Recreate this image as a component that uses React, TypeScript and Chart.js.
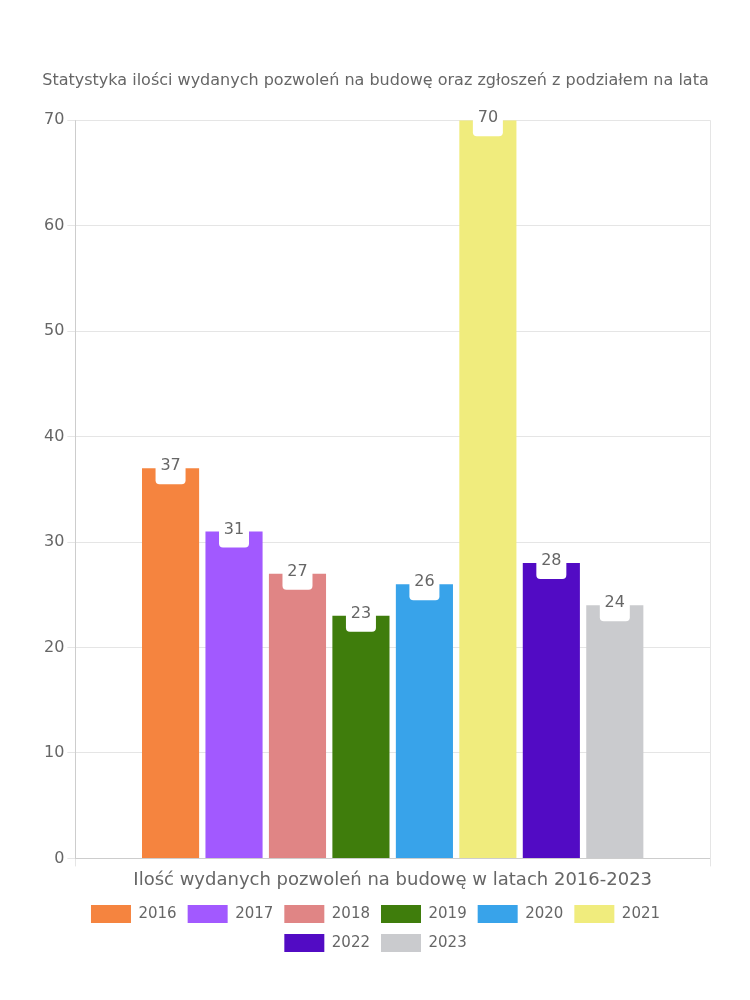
import React, { useEffect, useRef } from "react";
import { Chart, registerables } from "chart.js";

Chart.register(...registerables);

const categories = ["Ilość wydanych pozwoleń na budowę w latach 2016-2023"];
const years = ["2016", "2017", "2018", "2019", "2020", "2021", "2022", "2023"];
const values = [37, 31, 27, 23, 26, 70, 28, 24];
const colors = ["#F5843F", "#A259FF", "#E08585", "#3F7D0C", "#38A3EA", "#F0EC7D", "#520BC4", "#CACBCE"];
const titleText = "Statystyka ilości wydanych pozwoleń na budowę oraz zgłoszeń z podziałem na lata";

const FONT = "'DejaVu Sans', sans-serif";

const labelPlugin = {
  id: "valueLabels",
  afterDatasetsDraw(chart: any) {
    const ctx = chart.ctx;
    ctx.save();
    chart.data.datasets.forEach((ds: any, i: number) => {
      const meta = chart.getDatasetMeta(i);
      if (meta.hidden) return;
      meta.data.forEach((bar: any, j: number) => {
        const v = ds.data[j];
        const x = bar.x;
        const y = bar.y;
        const w = 30;
        const h = 30;
        const top = y - 14;
        const r = 4;
        ctx.fillStyle = "#ffffff";
        ctx.beginPath();
        ctx.moveTo(x - w / 2, top);
        ctx.lineTo(x + w / 2, top);
        ctx.lineTo(x + w / 2, top + h - r);
        ctx.quadraticCurveTo(x + w / 2, top + h, x + w / 2 - r, top + h);
        ctx.lineTo(x - w / 2 + r, top + h);
        ctx.quadraticCurveTo(x - w / 2, top + h, x - w / 2, top + h - r);
        ctx.closePath();
        ctx.fill();
        ctx.fillStyle = "#666666";
        ctx.font = "16px " + FONT;
        ctx.textAlign = "center";
        ctx.textBaseline = "middle";
        ctx.fillText(String(v), x, y - 2);
      });
    });
    ctx.restore();
  },
};

export default function App() {
  const ref = useRef<HTMLCanvasElement | null>(null);
  useEffect(() => {
    if (!ref.current) return;
    const chart = new Chart(ref.current, {
      type: "bar",
      data: {
        labels: categories,
        datasets: years.map((y, i) => ({
          label: y,
          data: [values[i]],
          backgroundColor: colors[i],
          borderWidth: 0,
        })),
      },
      options: {
        animation: false,
        responsive: true,
        maintainAspectRatio: false,
        layout: { padding: { top: 63, bottom: 30, left: 33, right: 32 } },
        plugins: {
          title: {
            display: true,
            text: titleText,
            color: "#666",
            font: { size: 16, family: FONT, weight: "normal" },
            padding: { top: 0, bottom: 30 },
          },
          legend: {
            position: "bottom",
            labels: {
              color: "#666",
              font: { size: 15, family: FONT },
              boxWidth: 40,
              boxHeight: 18,
              padding: 11,
            },
          },
          tooltip: { enabled: false },
        },
        scales: {
          x: {
            grid: { color: "#e5e5e5" },
            ticks: { color: "#666", font: { size: 18, family: FONT } },
          },
          y: {
            min: 0,
            max: 70,
            ticks: { stepSize: 10, color: "#666", font: { size: 16, family: FONT } },
            grid: { color: "#e5e5e5" },
          },
        },
      },
      plugins: [labelPlugin],
    });
    return () => chart.destroy();
  }, []);
  return (
    <div style={{ width: 734, height: 984 }}>
      <canvas ref={ref} />
    </div>
  );
}
